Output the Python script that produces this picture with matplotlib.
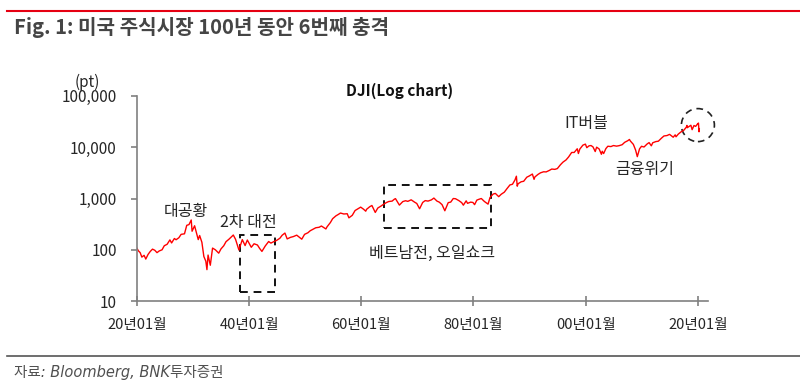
import matplotlib
matplotlib.use('Agg')
import matplotlib.pyplot as plt
import matplotlib.patches as patches
import matplotlib.transforms as transforms
from matplotlib.ticker import FixedLocator, NullLocator

plt.rcParams['font.family'] = ['Noto Sans CJK KR', 'DejaVu Sans']

# --- 데이터 (DJI, 그림에서 읽은 근사값) ---
years = [1920.0, 1920.3, 1920.6, 1920.9, 1921.3, 1921.6, 1922.0, 1922.4, 1922.8, 1923.2,
         1923.6, 1924.0, 1924.5, 1924.9, 1925.4, 1925.9, 1926.2, 1926.7, 1927.0, 1927.5,
         1927.9, 1928.5, 1928.9, 1929.3, 1929.7, 1929.85, 1930.3, 1930.6, 1930.95, 1931.2,
         1931.6, 1931.95, 1932.3, 1932.5, 1932.7, 1933.1, 1933.5, 1934.0, 1934.6, 1935.0,
         1935.5, 1935.9, 1936.4, 1936.9, 1937.2, 1937.6, 1938.2, 1938.8, 1939.3, 1939.7,
         1940.4, 1940.9, 1941.5, 1941.9, 1942.3, 1942.9, 1943.5, 1943.9, 1944.5, 1944.9,
         1945.5, 1945.9, 1946.4, 1946.8, 1947.4, 1947.9, 1948.5, 1949.4, 1949.9, 1950.5,
         1950.9, 1951.5, 1951.9, 1952.5, 1952.9, 1953.7, 1953.9, 1954.5, 1954.9, 1955.5,
         1955.9, 1956.3, 1956.9, 1957.5, 1957.8, 1958.4, 1958.9, 1959.5, 1959.9, 1960.4,
         1960.8, 1960.95, 1961.5, 1961.9, 1962.5, 1962.95, 1963.5, 1963.9, 1964.5, 1964.9,
         1965.5, 1965.9, 1966.1, 1966.8, 1967.4, 1967.9, 1968.3, 1968.9, 1969.5, 1969.9,
         1970.4, 1970.95, 1971.4, 1971.9, 1972.5, 1972.95, 1973.5, 1973.9, 1974.4, 1974.9,
         1975.5, 1975.95, 1976.4, 1976.8, 1977.4, 1977.9, 1978.2, 1978.7, 1978.95, 1979.5,
         1979.9, 1980.2, 1980.6, 1980.95, 1981.4, 1981.95, 1982.6, 1982.95, 1983.5, 1983.9,
         1984.5, 1984.95, 1985.5, 1985.95, 1986.5, 1986.95, 1987.4, 1987.65, 1987.8, 1987.95,
         1988.5, 1988.95, 1989.5, 1989.95, 1990.5, 1990.8, 1990.95, 1991.5, 1991.95, 1992.5,
         1992.95, 1993.5, 1993.95, 1994.5, 1994.95, 1995.5, 1995.95, 1996.5, 1996.95, 1997.5,
         1997.95, 1998.5, 1998.7, 1998.95, 1999.5, 1999.95, 2000.2, 2000.6, 2000.95, 2001.3,
         2001.7, 2001.95, 2002.4, 2002.8, 2002.95, 2003.2, 2003.6, 2003.95, 2004.5, 2004.95,
         2005.5, 2005.95, 2006.5, 2006.95, 2007.5, 2007.8, 2007.95, 2008.5, 2008.9, 2009.2,
         2009.6, 2009.95, 2010.4, 2010.95, 2011.3, 2011.7, 2011.95, 2012.5, 2012.95, 2013.5,
         2013.95, 2014.5, 2014.95, 2015.6, 2015.95, 2016.1, 2016.5, 2016.95, 2017.5, 2017.95,
         2018.05, 2018.1, 2018.75, 2018.97, 2019.3, 2019.6, 2019.95, 2020.1, 2020.2, 2020.25]
dji = [108, 95, 88, 72, 78, 66, 81, 93, 103, 98,
       88, 95, 100, 120, 128, 156, 136, 166, 157, 172,
       200, 205, 300, 310, 381, 230, 294, 220, 158, 190,
       140, 74, 60, 41, 79, 50, 108, 100, 86, 104,
       120, 144, 160, 180, 194, 160, 99, 158, 121, 155,
       112, 131, 124, 106, 93, 119, 145, 135, 146, 152,
       168, 192, 212, 163, 175, 181, 193, 161, 200, 215,
       235, 255, 269, 275, 291, 255, 280, 340, 404, 460,
       488, 521, 499, 505, 420, 470, 583, 640, 679, 620,
       566, 615, 690, 731, 535, 652, 710, 762, 835, 874,
       890, 969, 995, 744, 870, 905, 880, 943, 850, 800,
       631, 838, 910, 890, 940, 1020, 890, 850, 760, 577,
       830, 852, 1000, 990, 910, 831, 742, 900, 805, 850,
       838, 759, 930, 963, 1000, 875, 777, 1046, 1220, 1258,
       1086, 1211, 1330, 1546, 1840, 1895, 2300, 2722, 1738, 1938,
       2120, 2168, 2600, 2753, 2999, 2365, 2633, 2950, 3168, 3320,
       3301, 3520, 3754, 3700, 3834, 4550, 5117, 5650, 6448, 7900,
       7908, 9337, 7539, 9181, 10970, 11497, 9796, 10650, 10787, 10150,
       8235, 10021, 9250, 7286, 8341, 7524, 9400, 10453, 10300, 10783,
       10500, 10717, 11200, 12463, 13400, 14165, 13264, 11350, 8776, 6547,
       9300, 10428, 10100, 11577, 12300, 10655, 12217, 12880, 13104, 15000,
       16576, 16900, 17823, 15666, 17425, 15988, 18000, 19762, 21500, 24719,
       26616, 24000, 26828, 22000, 26500, 25500, 28538, 29551, 20000, 23000]

x_ticks = [1920, 1940, 1960, 1980, 2000, 2020]
x_labels = ['20년01월', '40년01월', '60년01월', '80년01월', '00년01월', '20년01월']
y_ticks = [10, 100, 1000, 10000, 100000]
y_labels = ['10', '100', '1,000', '10,000', '100,000']

# 주석 (텍스트, x, y)
notes = [('대공황', 1928.8, 546), ('2차 대전', 1939.8, 348),
         ('베트남전, 오일쇼크', 1972.6, 86), ('IT버블', 2000.2, 28500),
         ('금융위기', 2010.5, 3600)]
# 점선 박스 (x0, x1, y0, y1)
boxes = [(1938.4, 1944.6, 15, 194), (1964.1, 1983.1, 265, 1833)]

TEXT = '#262626'
GRAY = '#808080'

fig = plt.figure(figsize=(8, 3.9), dpi=100)
ax = fig.add_axes([0.171, 0.228, 0.714, 0.526])

ax.plot(years, dji, color='#ff0000', linewidth=1.0)

ax.set_yscale('log')
ax.set_ylim(10, 100000)
ax.set_xlim(1920, 2021.8)
ax.yaxis.set_major_locator(FixedLocator(y_ticks))
ax.yaxis.set_minor_locator(NullLocator())
ax.set_yticklabels(y_labels)
ax.set_xticks(x_ticks)
ax.set_xticklabels(x_labels)

for s in ['top', 'right']:
    ax.spines[s].set_visible(False)
for s in ['left', 'bottom']:
    ax.spines[s].set_color(GRAY)
    ax.spines[s].set_linewidth(1.2)
ax.tick_params(axis='y', direction='out', length=4.5, width=1.2, color=GRAY,
               labelsize=11, labelcolor=TEXT, pad=10)
ax.tick_params(axis='x', direction='inout', length=7, width=1.2, color=GRAY,
               labelsize=10.5, labelcolor=TEXT, pad=9)

for x0, x1, y0, y1 in boxes:
    ax.add_patch(patches.Rectangle((x0, y0), x1 - x0, y1 - y0, fill=False,
                                   edgecolor='#111111', linestyle=(0, (4, 3)),
                                   linewidth=1.4))

# 2020년 점선 원
trans = fig.dpi_scale_trans + transforms.ScaledTranslation(2020.0, 27000, ax.transData)
ax.add_patch(patches.Circle((0, 0), 0.165, transform=trans, fill=False,
                            edgecolor='#222222', linestyle=(0, (4, 3)),
                            linewidth=1.2, clip_on=False))

for txt, x, y in notes:
    ax.text(x, y, txt, ha='center', va='center', fontsize=11.5, color=TEXT)

ax.text(0.5, 0.768, 'DJI(Log chart)', transform=fig.transFigure, ha='center',
        va='center', fontsize=11, fontweight='bold', color='#111111')
fig.text(87 / 800, 1 - 82 / 390, '(pt)', ha='center', va='center',
         fontsize=11, color=TEXT)

# 상단 제목, 선
fig.add_artist(plt.Line2D([7 / 800, 1.0], [1 - 10.7 / 390] * 2, color='#e60012',
                          linewidth=1.5))
fig.text(14 / 800, 1 - 28 / 390, 'Fig. 1: 미국 주식시장 100년 동안 6번째 충격',
         ha='left', va='center', fontsize=14.5, fontweight='bold', color='#454545')

# 하단 출처
fig.add_artist(plt.Line2D([7 / 800, 1.0], [1 - 355.7 / 390] * 2, color='#555555',
                          linewidth=1.2))
fig.text(14 / 800, 1 - 373 / 390, '자료: Bloomberg, BNK투자증권', ha='left',
         va='center', fontsize=10.5, style='italic', color='#505050',
         family=['DejaVu Sans', 'Noto Sans CJK KR'])

fig.savefig('out.png', dpi=100)
